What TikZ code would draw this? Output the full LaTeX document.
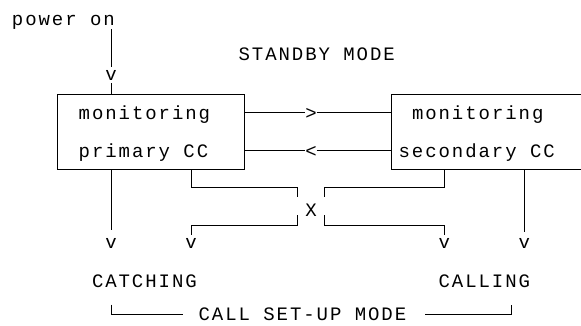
\documentclass[tikz,border=0pt]{standalone}
\usepackage{fontspec}
% monospaced text on a 13.33pt character grid
\newfontfamily\asciifont[LetterSpace=10.2]{Liberation Mono}
\newfontfamily\glyphfont{Liberation Mono}
\tikzset{
  txt/.style={font=\asciifont\fontsize{19}{19}\selectfont, inner sep=0pt, outer sep=0pt, anchor=base west},
  chr/.style={font=\glyphfont\fontsize{19}{19}\selectfont, inner sep=0pt, outer sep=0pt, anchor=base},
  wire/.style={line width=0.8pt, black},
  frame/.style={draw, line width=0.8pt, inner sep=0pt, outer sep=0pt, minimum height=75pt}
}
\begin{document}
\begin{tikzpicture}[x=1pt, y=-1pt]
  \useasboundingbox (0,0) rectangle (581,325);
  \clip (0,0) rectangle (581,325);

  % boxes (the secondary one runs off the right edge)
  \node[frame, minimum width=186.6pt] (box1) at (151,131.8) {};
  \node[frame, minimum width=230pt, anchor=west] (box2) at (390.9,131.8) {};

  % texts
  \node[txt] (pwr)     at (12,25)      {power on};
  \node[txt] (standby) at (238.6,60.7) {STANDBY MODE};
  \node[txt] (mon1)    at (78.7,119.3) {monitoring};
  \node[txt] (prim)    at (78.7,157.3) {primary CC};
  \node[txt] (mon2)    at (412,119.3)  {monitoring};
  \node[txt] (sec)     at (398.6,157.3) {secondary CC};
  \node[txt] (catch)   at (92,287.3)   {CATCHING};
  \node[txt] (call)    at (438.6,287.3) {CALLING};
  \node[txt] (setup)   at (198.6,320.8) {CALL SET-UP MODE};

  % single characters used as arrow heads and crossing
  \node[chr] (vtop) at (111,80.7)    {v};
  \node[chr] (gt)   at (311,119.3)   {>};
  \node[chr] (lt)   at (311,157.3)   {<};
  \node[chr] (cross) at (311,216.7)  {X};
  \node[chr] (vA)   at (111,248.5)   {v};
  \node[chr] (vB)   at (191,248.5)   {v};
  \node[chr] (vC)   at (444.3,248.5) {v};
  \node[chr] (vD)   at (524.3,248.5) {v};

  % levels and bends
  \coordinate (hiwire) at (0,112.7);
  \coordinate (lowire) at (0,150);
  \coordinate (upL)  at (297.7,187.3);
  \coordinate (upLe) at (297.7,196.7);
  \coordinate (dnLs) at (297.7,215);
  \coordinate (dnL)  at (297.7,225);
  \coordinate (upR)  at (324.3,187.3);
  \coordinate (upRe) at (324.3,196.7);
  \coordinate (dnRs) at (324.3,215);
  \coordinate (dnR)  at (324.3,225);
  \coordinate (brL)  at (111,304.5);
  \coordinate (brLe) at (183,314.5);
  \coordinate (brRs) at (425,314.5);
  \coordinate (brR)  at (510.9,304.5);

  % power on
  \draw[wire] (vtop |- pwr.south) -- ([yshift=3.7pt]vtop.north);
  \draw[wire] ([yshift=-2.3pt]vtop.south) -- (vtop |- box1.north);

  % standby exchange
  \draw[wire] (box1.east |- hiwire) -- (gt.west |- hiwire);
  \draw[wire] (gt.east |- hiwire) -- (box2.west |- hiwire);
  \draw[wire] (box1.east |- lowire) -- (lt.west |- lowire);
  \draw[wire] (lt.east |- lowire) -- (box2.west |- lowire);

  % straight drops
  \draw[wire] (box1.south -| vA) -- ([yshift=8.5pt]vA.north);
  \draw[wire] (box2.south -| vD) -- ([yshift=6.5pt]vD.north);

  % crossing paths
  \draw[wire] (box1.south -| vB) |- (upL) -- (upLe);
  \draw[wire] (dnLs) -- (dnL) -| ([yshift=3.5pt]vB.north);
  \draw[wire] (box2.south -| vC) |- (upR) -- (upRe);
  \draw[wire] (dnRs) -- (dnR) -| ([yshift=3.5pt]vC.north);

  % call set-up bracket
  \draw[wire] (brL) |- (brLe);
  \draw[wire] (brRs) -| (brR);
\end{tikzpicture}
\end{document}
